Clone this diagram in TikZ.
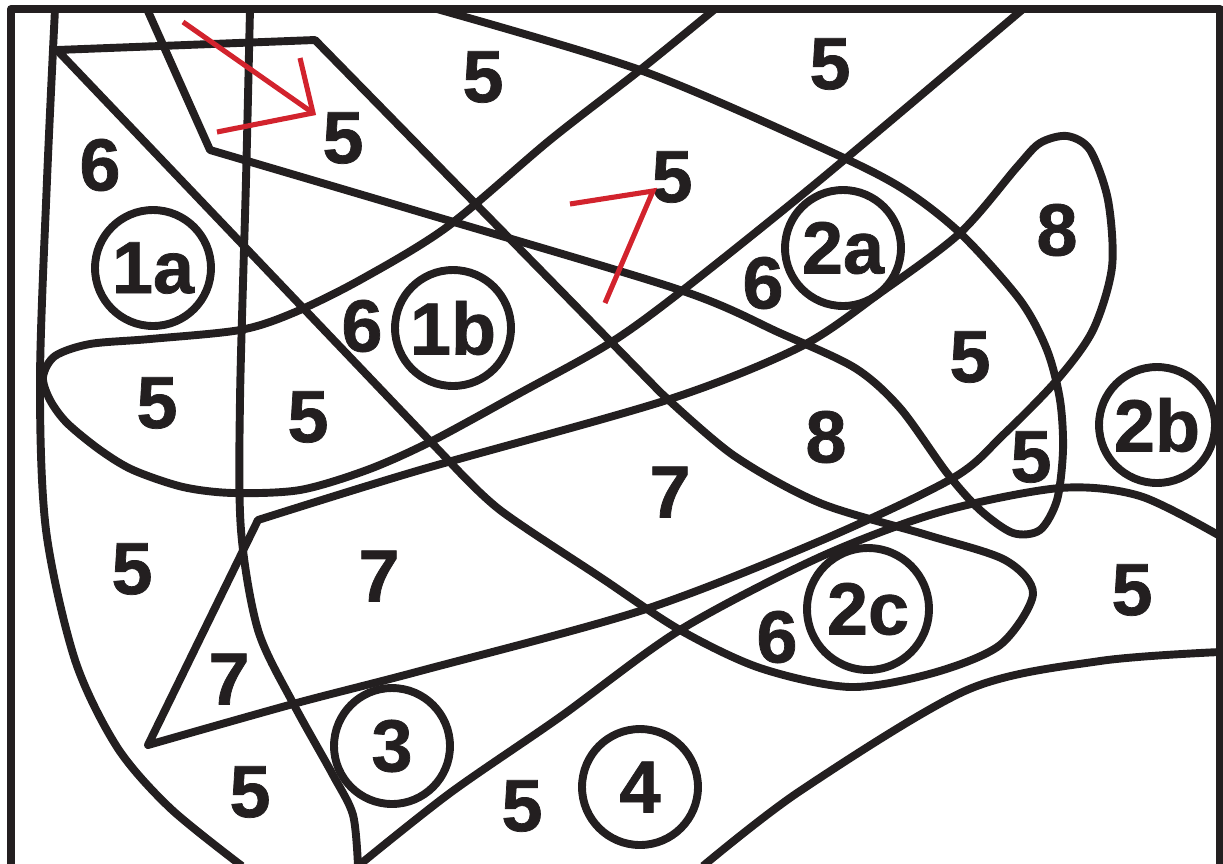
\documentclass[tikz,border=0pt]{standalone}
\usepackage{fontspec}
\setmainfont{Liberation Sans}[BoldFeatures={FakeBold=1}]
\definecolor{inkcolor}{RGB}{35,31,32}
\definecolor{markcolor}{RGB}{210,35,45}

\begin{document}
\begin{tikzpicture}[
    x=0.02cm, y=-0.02cm,
    outline/.style={draw=inkcolor, line width=4.5pt, line join=round},
    num/.style={font=\fontsize{42}{42}\selectfont\bfseries, text=inkcolor, inner sep=0pt},
    zone/.style={num, circle, draw=inkcolor, line width=4.5pt, minimum size=2.32cm},
    redstroke/.style={draw=markcolor, line width=2.9pt},
]
    \useasboundingbox (0,0) rectangle (1223,863);
    % Frame
    \draw[outline] (11,9) rectangle (1220,868);
    % Long left curves
    \draw[outline] plot[smooth] coordinates {(55,9) (47,180) (40,380) (46,530) (75,660) (117,747) (170,808) (242,866)};
    \draw[outline] plot[smooth] coordinates {(250,9) (246,180) (240,400) (241,530) (258,630) (293,703) (333,775) (353,815) (358,866)};
    % Curves from the bottom edge
    \draw[outline] plot[smooth] coordinates {(358,866) (450,793) (560,717) (680,630) (820,557) (940,512) (1060,488) (1140,496) (1220,536)};
    \draw[outline] plot[smooth] coordinates {(703,866) (800,791) (967,690) (1100,661) (1220,652)};
    % Wedge with the loop round 2c
    \draw[outline] (57,50) -- (315,40) -- (660,392) -- plot[smooth] coordinates {(660,392) (733,455) (820,503) (927,535) (1005,560) (1033,594) (1000,645) (933,673) (850,687) (760,668) (680,630) (600,577) (500,510) (450,462)} -- cycle;
    % Wedge with the loop round 8
    \draw[outline] (258,520) -- (148,745) -- plot[smooth] coordinates {(148,745) (293,704) (420,671) (643,610) (820,541) (953,478) (1003,435) (1057,380) (1093,330) (1112,267) (1108,200) (1090,150) (1067,136) (1040,143) (1017,167) (960,233) (880,293) (800,347) (667,400) (420,470) (258,520)} -- cycle;
    % Lens on the left
    \draw[outline] plot[smooth] coordinates {(715,9) (640,70) (550,140) (447,227) (360,280) (293,313) (240,330) (150,339) (90,344) (55,356) (43,377) (50,400) (67,423) (100,450) (133,470) (183,487) (233,493) (300,490) (367,470) (430,442) (520,393) (610,343) (683,290) (820,180) (1023,9)};
    % Hook from the top
    \draw[outline] (147,9) -- (210,150) -- plot[smooth] coordinates {(210,150) (420,212) (680,290) (780,333) (855,368) (900,408) (947,473) (980,510) (1013,533) (1040,530) (1057,500) (1063,450) (1060,400) (1047,350) (1020,300) (960,233) (900,187) (820,147) (640,70) (437,9)};
    % Numbers
    \foreach \nm/\px/\py/\val in {
        na/100/165/6, nb/343/138/5, nc/483/77/5, nd/830/64/5, ne/672/177/5,
        nf/362/326/6, ng/763/283/6, nh/1057/230/8, ni/970/357/5, nj/157/403/5,
        nk/308/417/5, nl/826/437/8, nm/1031/457/5, nn/670/492/7, no/132/569/5,
        np/379/576/7, nq/1132/590/5, nr/777/637/6, ns/229/679/7, nt/250/792/5,
        nu/522/806/5} {
        \node[num] (\nm) at (\px,\py) {\val};
    }
    % Circled labels
    \foreach \nm/\px/\py/\val in {
        c1a/153/268/1a, c1b/453/328/1b, c2a/843/248/2a, c2b/1157/425/2b,
        c3/392/746/3, c4/640/787/4} {
        \node[zone] (\nm) at (\px,\py) {\val};
    }
    \node[zone, minimum size=2.44cm] (c2c) at (868,609) {2c};
    % Red marks
    \coordinate (aTail) at (183,22);
    \coordinate (aTip) at (313,113);
    \coordinate (aUp) at (300,58);
    \coordinate (aLow) at (217,132);
    \draw[redstroke] (aTail) -- (aTip);
    \draw[redstroke] (aUp) -- (aTip) -- (aLow);
    \coordinate (vLeft) at (570,204);
    \coordinate (vTip) at (653,191);
    \coordinate (vLow) at (605,303);
    \draw[redstroke] (vLeft) -- (vTip) -- (vLow);
\end{tikzpicture}
\end{document}
